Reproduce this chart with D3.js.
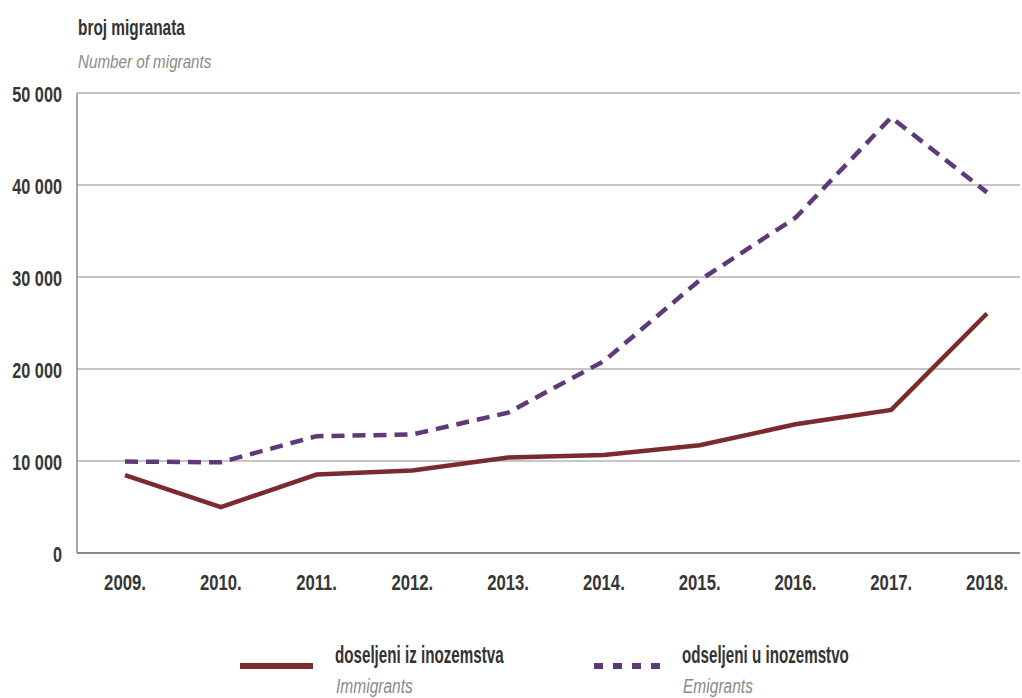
<!DOCTYPE html>
<html>
<head>
<meta charset="utf-8">
<script src="https://cdn.jsdelivr.net/npm/d3@7"></script>
<style>
  html, body { margin: 0; padding: 0; background: #fff; }
  svg { display: block; }
  text { font-family: "Liberation Sans", Arial, sans-serif; }
</style>
</head>
<body>
<svg id="chart" width="1022" height="698"></svg>
<script>
const years = ['2009.', '2010.', '2011.', '2012.', '2013.', '2014.', '2015.', '2016.', '2017.', '2018.'];
const immigrants = [8470, 4990, 8530, 8960, 10380, 10640, 11710, 13990, 15550, 26030];
const emigrants = [9940, 9860, 12700, 12880, 15260, 20860, 29650, 36440, 47350, 39200];
const yTicks = [0, 10000, 20000, 30000, 40000, 50000];

const svg = d3.select('#chart');
const plotLeft = 77, plotRight = 1020, plotTop = 93, plotBottom = 553;

const x = d3.scalePoint().domain(years).range([125, 987]);
const y = d3.scaleLinear().domain([0, 50000]).range([plotBottom, plotTop]);

const fmt = v => d3.format(',')(v).replace(/,/g, ' ');

// narrow type: the source uses a condensed face, so squeeze the text horizontally
function ctext(sel, px, py, str, o) {
  return sel.append('text')
    .attr('transform', `translate(${px},${py}) scale(${o.sx},1)`)
    .attr('text-anchor', o.anchor || 'start')
    .attr('font-size', o.size)
    .attr('font-weight', o.weight || 'normal')
    .attr('font-style', o.style || 'normal')
    .attr('fill', o.fill || '#333')
    .text(str);
}

// grid lines
svg.append('g').selectAll('line')
  .data(yTicks.filter(d => d > 0))
  .enter().append('line')
  .attr('x1', plotLeft).attr('x2', plotRight)
  .attr('y1', d => y(d)).attr('y2', d => y(d))
  .attr('stroke', '#c6c6c6').attr('stroke-width', 2);

// axis lines
svg.append('line').attr('x1', plotLeft).attr('x2', plotLeft).attr('y1', plotTop).attr('y2', plotBottom)
  .attr('stroke', '#8a8a8a').attr('stroke-width', 1.5);
svg.append('line').attr('x1', plotLeft).attr('x2', plotRight).attr('y1', plotBottom).attr('y2', plotBottom)
  .attr('stroke', '#8a8a8a').attr('stroke-width', 2);

// y tick labels
const yg = svg.append('g');
yTicks.forEach(d => ctext(yg, 62, y(d) + 8.5, fmt(d),
  { sx: 0.74, size: 22, weight: 'bold', anchor: 'end', fill: '#363636' }));

// x tick labels
const xg = svg.append('g');
years.forEach(d => ctext(xg, x(d), 590, d,
  { sx: 0.76, size: 22, weight: 'bold', anchor: 'middle', fill: '#363636' }));

// axis title
ctext(svg, 78, 35, 'broj migranata', { sx: 0.70, size: 22, weight: 'bold', fill: '#333' });
ctext(svg, 78, 68, 'Number of migrants', { sx: 0.8, size: 19, style: 'italic', fill: '#8a8a8a' });

const line = d3.line().x((d, i) => x(years[i])).y(d => y(d));

svg.append('path').datum(immigrants)
  .attr('d', line).attr('fill', 'none')
  .attr('stroke', '#7b2a2e').attr('stroke-width', 4.5)
  .attr('stroke-linejoin', 'miter');

svg.append('path').datum(emigrants)
  .attr('d', line).attr('fill', 'none')
  .attr('stroke', '#5f3a78').attr('stroke-width', 4.5)
  .attr('stroke-dasharray', '13,8')
  .attr('stroke-linejoin', 'miter');

// legend
const legend = [
  { x: 240, tx: 335, label: 'doseljeni iz inozemstva', sub: 'Immigrants', color: '#7b2a2e', dash: null },
  { x: 594, tx: 682, label: 'odseljeni u inozemstvo', sub: 'Emigrants', color: '#5f3a78', dash: '9,10' }
];
legend.forEach(d => {
  const g = svg.append('g');
  g.append('line')
    .attr('x1', d.x).attr('x2', d.x + 73)
    .attr('y1', 666).attr('y2', 666)
    .attr('stroke', d.color).attr('stroke-width', 6)
    .attr('stroke-dasharray', d.dash);
  ctext(g, d.tx, 663, d.label, { sx: 0.66, size: 23, weight: 'bold', fill: '#333' });
  ctext(g, d.tx + 1, 693, d.sub, { sx: 0.74, size: 21, style: 'italic', fill: '#8a8a8a' });
});
</script>
</body>
</html>
